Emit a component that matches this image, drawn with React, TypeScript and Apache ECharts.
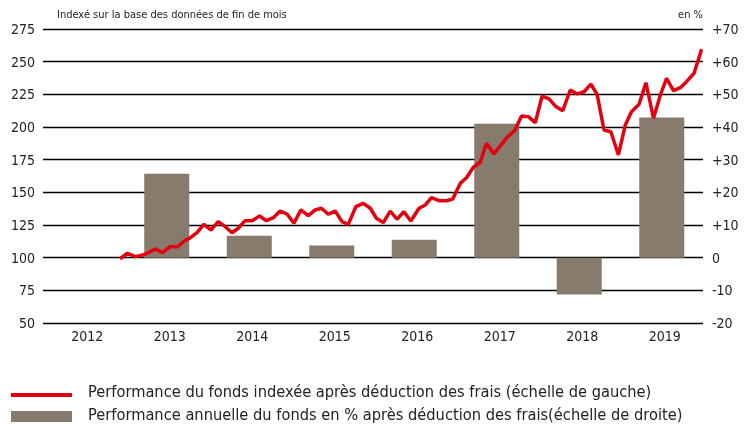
import React, { useEffect, useRef } from "react";
import * as echarts from "echarts";

const years = ["2012", "2013", "2014", "2015", "2016", "2017", "2018", "2019"];
const annualPerf: (number | null)[] = [null, 25.7, 6.7, 3.7, 5.5, 41.0, -11.3, 42.9];

// months since Jan 2012
const lineMonths = [
  11.2, 12.3, 13.4, 14.5, 15.2, 16.3, 17.4, 18.5, 19.6, 20.7, 21.3, 22.4, 23.4, 24.4, 25.5,
  26.5, 27.5, 28.4, 29.4, 30.4, 31.5, 32.5, 33.5, 34.5, 35.5, 36.5, 37.5, 38.6, 39.6, 40.5,
  41.5, 42.5, 43.5, 44.4, 45.5, 46.6, 47.6, 48.5, 49.5, 50.5, 51.5, 52.5, 53.5, 54.7, 55.6,
  56.5, 57.6, 58.7, 59.6, 60.7, 61.6, 62.6, 63.6, 64.5, 65.6, 66.6, 67.5, 68.6, 69.6, 70.6,
  71.6, 72.6, 73.6, 74.6, 75.6, 76.7, 77.7, 78.7, 79.7, 80.6, 81.6, 82.6, 83.7, 84.7, 85.6,
  86.7, 87.7, 88.8, 89.8, 90.7, 91.7, 92.7, 93.6, 94.7, 95.8,
];
const lineValues = [
  99.2, 103.4, 100.8, 102.0, 103.4, 106.7, 103.8, 108.4, 108.4, 113.5, 114.8, 119.1, 125.5, 121.2, 127.6,
  123.7, 119.1, 122.5, 128.3, 128.3, 131.9, 128.3, 130.6, 135.7, 133.4, 126.3, 136.5, 132.2, 136.5, 137.8,
  133.2, 135.7, 127.6, 125.5, 139.0, 141.6, 137.8, 130.2, 126.8, 135.7, 129.4, 135.2, 128.1, 137.8, 140.3,
  145.9, 143.6, 143.6, 144.9, 156.9, 161.2, 169.2, 173.0, 187.6, 179.4, 186.2, 192.1, 197.2, 208.4, 207.9,
  203.3, 223.7, 221.5, 215.6, 212.5, 228.3, 225.3, 227.0, 232.7, 225.0, 197.7, 196.4, 178.6, 201.6, 211.7,
  217.4, 233.9, 206.7, 224.5, 237.3, 227.8, 230.1, 234.7, 241.1, 259.5,
];

const leftTicks = { min: 50, max: 275, interval: 25 };
const rightTicks = { min: -20, max: 70, interval: 10 };

const title = "Indexé sur la base des données de fin de mois";
const unitLabel = "en %";
const legendLine = "Performance du fonds indexée après déduction des frais (échelle de gauche)";
const legendBar = "Performance annuelle du fonds en % après déduction des frais(échelle de droite)";

const FONT = "'DejaVu Sans Condensed', 'Liberation Sans Narrow', sans-serif";
const RED = "#e3000f";
const BROWN = "#877b6d";
const TEXT = "#222";

export default function App() {
  const ref = useRef<HTMLDivElement>(null);
  useEffect(() => {
    if (!ref.current) return;
    const chart = echarts.init(ref.current, null, { renderer: "svg" });
    const lineData = lineMonths.map((m, i) => [m, lineValues[i]]);
    chart.setOption({
      animation: false,
      textStyle: { fontFamily: FONT },
      grid: { left: 43, right: 44, top: 29, bottom: 102, containLabel: false },
      xAxis: [
        {
          type: "category",
          data: years,
          axisLine: { show: false },
          axisTick: { show: false },
          axisLabel: {
            color: TEXT,
            fontSize: 14,
            fontFamily: FONT,
            margin: 6,
            padding: [0, 0, 0, 6],
          },
          splitLine: { show: false },
        },
        { type: "value", min: 0, max: 96, show: false },
      ],
      yAxis: [
        {
          type: "value",
          position: "left",
          ...leftTicks,
          axisLine: { show: false },
          axisTick: { show: false },
          axisLabel: { color: TEXT, fontSize: 14, fontFamily: FONT, margin: 8 },
          splitLine: { show: true, lineStyle: { color: "#000", width: 1.3 } },
        },
        {
          type: "value",
          position: "right",
          ...rightTicks,
          axisLine: { show: false },
          axisTick: { show: false },
          axisLabel: {
            color: TEXT,
            fontSize: 14,
            fontFamily: FONT,
            margin: 9,
            formatter: (v: number) => (v > 0 ? "+" + v : String(v)),
          },
          splitLine: { show: false },
        },
      ],
      series: [
        {
          type: "bar",
          xAxisIndex: 0,
          yAxisIndex: 1,
          data: annualPerf,
          barWidth: 45,
          itemStyle: { color: BROWN },
          z: 2,
        },
        {
          type: "line",
          xAxisIndex: 1,
          yAxisIndex: 0,
          data: lineData,
          symbol: "none",
          lineStyle: { color: RED, width: 3.5 },
          z: 3,
        },
      ],
      graphic: [
        {
          type: "text",
          left: 57,
          top: 9,
          style: { text: title, fill: TEXT, font: `11px ${FONT}` },
        },
        {
          type: "text",
          right: 44,
          top: 9,
          style: { text: unitLabel, fill: TEXT, font: `11px ${FONT}` },
        },
        {
          type: "rect",
          shape: { x: 11, y: 393, width: 61, height: 4 },
          style: { fill: RED },
        },
        {
          type: "text",
          left: 88,
          top: 383,
          style: { text: legendLine, fill: TEXT, font: `16.3px ${FONT}` },
        },
        {
          type: "rect",
          shape: { x: 11, y: 411, width: 61, height: 11 },
          style: { fill: BROWN },
        },
        {
          type: "text",
          left: 88,
          top: 406,
          style: { text: legendBar, fill: TEXT, font: `16.3px ${FONT}` },
        },
      ],
    });
    return () => chart.dispose();
  }, []);
  return (
    <div
      ref={ref}
      style={{ position: "fixed", left: 0, top: 0, width: 747, height: 425 }}
    />
  );
}
